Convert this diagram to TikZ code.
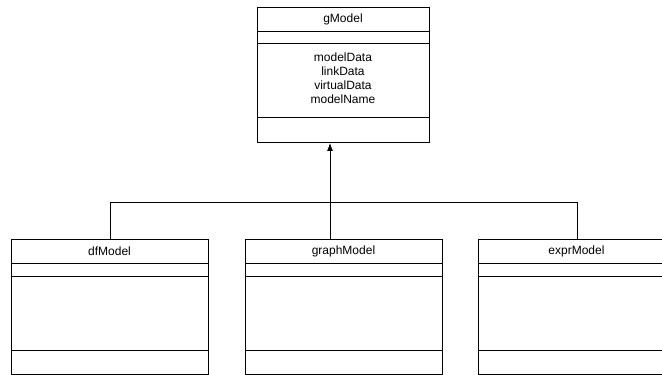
\documentclass[tikz,border=0pt]{standalone}
\usepackage{fontspec}
\setmainfont{Liberation Sans}
\usetikzlibrary{arrows.meta}
\tikzset{
  classbox/.style={draw,line width=0.7pt,inner sep=0pt,anchor=north west,
    minimum width=147.75pt,minimum height=101.25pt},
  classname/.style={font=\fontsize{9}{10.5}\selectfont,inner sep=0pt},
}
\begin{document}
\begin{tikzpicture}[x=0.75pt,y=-0.75pt,line width=0.7pt]

          \useasboundingbox (0,0) rectangle (662,375);

          % base class
          \node[classbox,minimum width=129pt] (gModel) at (257,7) {};
          \draw (gModel.north west) ++(0,24) -- ++(172,0);
          \draw (gModel.north west) ++(0,36) -- ++(172,0);
          \draw (gModel.north west) ++(0,110) -- ++(172,0);
          \node[classname] (gModelTitle) at (343,19) {gModel};
          \node[classname,align=center] (gModelAttr) at (343,78.5)
              {modelData\\linkData\\virtualData\\modelName};

          % derived classes
          \node[classbox] (dfModel) at (11,239) {};
          \draw (dfModel.north west) ++(0,24) -- ++(197,0);
          \draw (dfModel.north west) ++(0,37) -- ++(197,0);
          \draw (dfModel.north west) ++(0,111) -- ++(197,0);
          \node[classname] (dfModelTitle) at (109.5,251) {dfModel};

          \node[classbox] (graphModel) at (245,239) {};
          \draw (graphModel.north west) ++(0,24) -- ++(197,0);
          \draw (graphModel.north west) ++(0,37) -- ++(197,0);
          \draw (graphModel.north west) ++(0,111) -- ++(197,0);
          \node[classname] (graphModelTitle) at (343.5,251) {graphModel};

          \node[classbox] (exprModel) at (478,239) {};
          \draw (exprModel.north west) ++(0,24) -- ++(197,0);
          \draw (exprModel.north west) ++(0,37) -- ++(197,0);
          \draw (exprModel.north west) ++(0,111) -- ++(197,0);
          \node[classname] (exprModelTitle) at (576.5,251) {exprModel};

          % inheritance
          \coordinate (join) at (330,202.5);
          \draw[->,>={Latex[length=6pt,width=4.5pt]}] (graphModel.north -| join) -- (gModel.south -| join);
          \draw (dfModel.north) |- (join) -| (exprModel.north);
      \end{tikzpicture}
\end{document}
